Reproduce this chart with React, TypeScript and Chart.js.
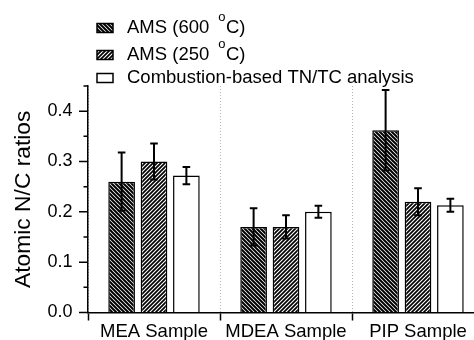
import React, { useEffect, useRef } from 'react';
import { Chart, registerables } from 'chart.js';

Chart.register(...registerables);

const categories = ['MEA Sample', 'MDEA Sample', 'PIP Sample'];
const ams600 = [0.26, 0.17, 0.362];
const ams600Err = [0.058, 0.037, 0.08];
const ams250 = [0.3, 0.17, 0.22];
const ams250Err = [0.036, 0.023, 0.027];
const combustion = [0.272, 0.2, 0.213];
const combustionErr = [0.017, 0.012, 0.013];
const yMajorTicks = [0, 0.1, 0.2, 0.3, 0.4];
const yMinorTicks = [0.05, 0.15, 0.25, 0.35, 0.45];
const seriesNames = ['AMS (600 °C)', 'AMS (250 °C)', 'Combustion-based TN/TC analysis'];
const legendParts = [
  ['AMS (600', 'o', 'C)'],
  ['AMS (250', 'o', 'C)'],
  ['Combustion-based TN/TC analysis', '', ''],
];
const yTitle = 'Atomic N/C ratios';

const FONT = '"Liberation Sans", Arial, Helvetica, sans-serif';

function makePattern(ctx: CanvasRenderingContext2D, dir: 'back' | 'fwd', lw: number) {
  const p = 4;
  const c = document.createElement('canvas');
  c.width = p;
  c.height = p;
  const g = c.getContext('2d')!;
  g.fillStyle = '#fff';
  g.fillRect(0, 0, p, p);
  g.strokeStyle = '#000';
  g.lineWidth = lw;
  g.beginPath();
  for (let k = -1; k <= 1; k++) {
    if (dir === 'back') {
      g.moveTo(k * p - 1, -1);
      g.lineTo(k * p + p + 1, p + 1);
    } else {
      g.moveTo(k * p - 1, p + 1);
      g.lineTo(k * p + p + 1, -1);
    }
  }
  g.stroke();
  return ctx.createPattern(c, 'repeat')!;
}

const errorBarPlugin = {
  id: 'errorBars',
  afterDatasetsDraw(chart: any) {
    const ctx = chart.ctx;
    const y = chart.scales.y;
    ctx.save();
    ctx.strokeStyle = '#000';
    ctx.lineWidth = 2;
    chart.data.datasets.forEach((ds: any, di: number) => {
      const meta = chart.getDatasetMeta(di);
      meta.data.forEach((bar: any, i: number) => {
        const v = ds.data[i];
        const e = ds.errors[i];
        const yt = y.getPixelForValue(v + e);
        const yb = y.getPixelForValue(v - e);
        const x = bar.x;
        const cap = 3.8;
        ctx.beginPath();
        ctx.moveTo(x, yt);
        ctx.lineTo(x, yb);
        ctx.moveTo(x - cap, yt);
        ctx.lineTo(x + cap, yt);
        ctx.moveTo(x - cap, yb);
        ctx.lineTo(x + cap, yb);
        ctx.stroke();
      });
    });
    ctx.restore();
  },
};

const yTickPlugin = {
  id: 'yTickMarks',
  afterDraw(chart: any) {
    const ctx = chart.ctx;
    const y = chart.scales.y;
    const left = chart.chartArea.left;
    ctx.save();
    ctx.strokeStyle = '#000';
    ctx.lineWidth = 1.5;
    ctx.beginPath();
    yMajorTicks.forEach((v) => {
      const py = y.getPixelForValue(v);
      ctx.moveTo(left - 9, py);
      ctx.lineTo(left, py);
    });
    yMinorTicks.forEach((v) => {
      const py = y.getPixelForValue(v);
      ctx.moveTo(left - 4.5, py);
      ctx.lineTo(left, py);
    });
    ctx.stroke();
    ctx.restore();
  },
};

const legendPlugin = {
  id: 'customLegend',
  afterDraw(chart: any) {
    const ctx = chart.ctx;
    const baselines = [33, 60, 83];
    const swX = 97;
    const swW = 16;
    const swH = 9;
    const textX = 127;
    ctx.save();
    chart.data.datasets.forEach((ds: any, i: number) => {
      const b = baselines[i];
      ctx.fillStyle = ds.backgroundColor;
      ctx.fillRect(swX, b - 0.5 - swH, swW, swH);
      ctx.strokeStyle = '#000';
      ctx.lineWidth = 1.5;
      ctx.strokeRect(swX, b - 0.5 - swH, swW, swH);
      const [main, sup, rest] = legendParts[i];
      ctx.fillStyle = '#000';
      ctx.textAlign = 'left';
      ctx.textBaseline = 'alphabetic';
      ctx.font = `18.5px ${FONT}`;
      ctx.fillText(main, textX, b);
      let x = textX + ctx.measureText(main).width;
      if (sup) {
        x += 9;
        ctx.font = `13px ${FONT}`;
        ctx.fillText(sup, x, b - 12.5);
        x += ctx.measureText(sup).width + 0.5;
        ctx.font = `18.5px ${FONT}`;
        ctx.fillText(rest, x, b);
      }
    });
    ctx.restore();
  },
};

export default function App() {
  const canvasRef = useRef<HTMLCanvasElement | null>(null);

  useEffect(() => {
    const canvas = canvasRef.current!;
    const ctx = canvas.getContext('2d')!;
    const pat600 = makePattern(ctx, 'back', 2);
    const pat250 = makePattern(ctx, 'fwd', 1.7);
    const common = {
      borderColor: '#000',
      borderWidth: 1.5,
      barPercentage: 0.824,
      categoryPercentage: 0.736,
    };
    const chart = new Chart(ctx, {
      type: 'bar',
      data: {
        labels: categories,
        datasets: [
          { label: seriesNames[0], data: ams600, backgroundColor: pat600, errors: ams600Err, ...common } as any,
          { label: seriesNames[1], data: ams250, backgroundColor: pat250, errors: ams250Err, ...common } as any,
          { label: seriesNames[2], data: combustion, backgroundColor: '#fff', errors: combustionErr, ...common } as any,
        ],
      },
      options: {
        animation: false,
        responsive: false,
        devicePixelRatio: 1,
        layout: { padding: { top: 86, left: 0, right: 0, bottom: 0 } },
        plugins: {
          legend: { display: false },
          tooltip: { enabled: false },
        },
        scales: {
          x: {
            grid: {
              display: true,
              drawOnChartArea: true,
              offset: true,
              color: '#b5b5b5',
              lineWidth: 1,
              tickLength: 8,
              tickColor: '#000',
              tickWidth: 1.5,
              tickBorderDash: [],
            } as any,
            border: { display: true, color: '#000', width: 1.5, dash: [1, 2] },
            ticks: {
              color: '#000',
              font: { family: FONT, size: 18.5 },
              padding: 0,
              maxRotation: 0,
              autoSkip: false,
            },
            afterFit: (s: any) => {
              s.height = 27.5;
            },
          },
          y: {
            min: 0,
            max: 0.45,
            ticks: {
              stepSize: 0.05,
              color: '#000',
              font: { family: FONT, size: 18 },
              padding: 15.5,
              callback: (v: any) =>
                yMajorTicks.some((t) => Math.abs(t - Number(v)) < 1e-6) ? Number(v).toFixed(1) : '',
            },
            grid: { display: true, drawOnChartArea: false, drawTicks: false },
            border: { display: true, color: '#000', width: 1.5 },
            title: {
              display: true,
              text: yTitle,
              color: '#000',
              font: { family: FONT, size: 22.8 },
              padding: { top: 10.5, bottom: 0 },
            },
            afterFit: (s: any) => {
              s.width = 88;
            },
          },
        },
      },
      plugins: [errorBarPlugin, yTickPlugin, legendPlugin],
    });
    return () => chart.destroy();
  }, []);

  return (
    <div
      style={{
        position: 'absolute',
        left: 0,
        top: 0,
        width: 474,
        height: 340,
        overflow: 'hidden',
        background: '#fff',
      }}
    >
      <canvas ref={canvasRef} width={484} height={340} style={{ display: 'block', width: 484, height: 340 }} />
    </div>
  );
}
